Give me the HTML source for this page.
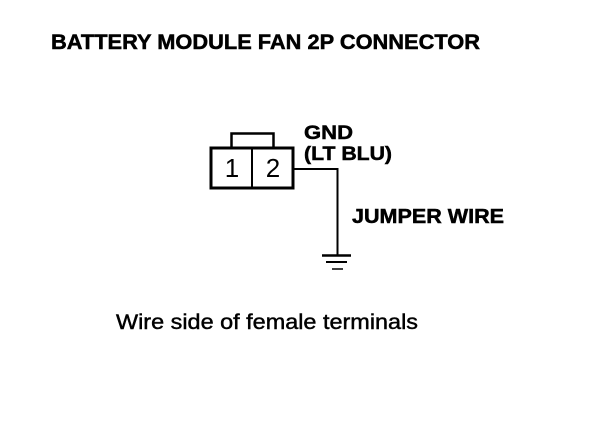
<!DOCTYPE html>
<html>
<head>
<meta charset="utf-8">
<style>
html,body{margin:0;padding:0;background:#fff;width:608px;height:432px;overflow:hidden}
svg{display:block}
text{font-family:"Liberation Sans",sans-serif;fill:#000}
.b{font-weight:bold;stroke:#000;stroke-width:.5px}
</style>
</head>
<body>
<svg width="608" height="432" viewBox="0 0 608 432" xmlns="http://www.w3.org/2000/svg">
<rect width="608" height="432" fill="#fff"/>
<text class="b" x="51" y="49" font-size="21" textLength="429" lengthAdjust="spacingAndGlyphs">BATTERY MODULE FAN 2P CONNECTOR</text>
<g fill="none" stroke="#000">
<rect x="211" y="148" width="82" height="40" stroke-width="3"/>
<path d="M252 148V188" stroke-width="2"/>
<path d="M231.500 147V133.500H273.500V147" stroke-width="2.500"/>
<path d="M294 169H337.500V255" stroke-width="2"/>
<path d="M322 255.500H351" stroke-width="2.500"/>
<path d="M326 262H347" stroke-width="2"/>
<path d="M332 269H343" stroke-width="1.500"/>
</g>
<text x="232" y="177" font-size="26" text-anchor="middle">1</text>
<text x="273" y="177" font-size="26" text-anchor="middle">2</text>
<text class="b" x="304" y="139" font-size="19.500" textLength="49" lengthAdjust="spacingAndGlyphs">GND</text>
<text class="b" x="304" y="160" font-size="19.500" textLength="88" lengthAdjust="spacingAndGlyphs">(LT BLU)</text>
<text class="b" x="352" y="223" font-size="20" textLength="152" lengthAdjust="spacingAndGlyphs">JUMPER WIRE</text>
<text x="116" y="329" font-size="21" stroke="#000" stroke-width=".45" textLength="302" lengthAdjust="spacingAndGlyphs">Wire side of female terminals</text>
</svg>
</body>
</html>
